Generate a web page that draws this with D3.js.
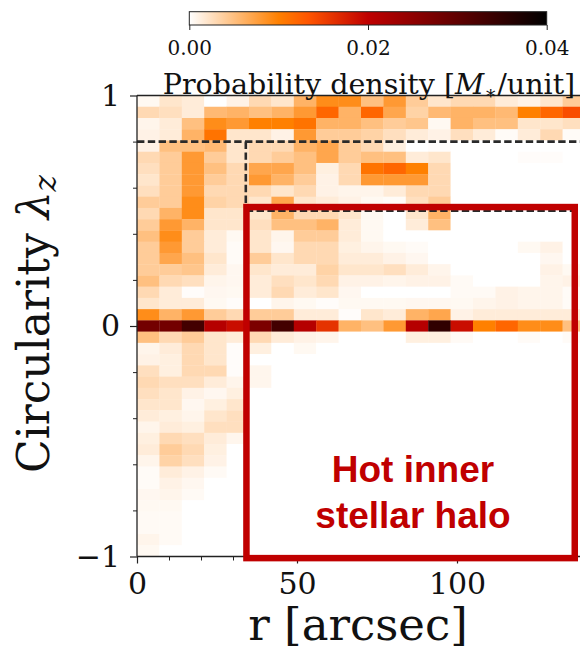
<!DOCTYPE html>
<html><head><meta charset="utf-8">
<script src="https://cdn.jsdelivr.net/npm/d3@7"></script>
<style>html,body{margin:0;padding:0;background:#fff;} svg{display:block;}</style>
</head><body>
<svg id="chart" width="580" height="655"></svg>
<script>
// ---------------- data ----------------
// radial bins (arcsec, left edge), width 7 arcsec
const rBinStarts = [0,7,14,21,28,35,42,49,56,63,70,77,84,91,98,105,112,119,126,133];
const rBinWidth = 7;
// 41 circularity bins spanning [-1, 1], listed from lambda = +1 (top) down to -1
const lambdaBinCount = 41;
// probability density per cell, in units of 1e-4 M*/unit (row 0 = top)
const densityRows = [
  [5,20,15,0,10,30,20,60,90,90,50,80,40,20,30,30,15,10,20,40],
  [30,25,15,55,60,50,60,80,120,60,120,70,35,55,60,60,55,100,120,140],
  [8,15,50,90,80,100,100,110,60,60,50,40,45,5,60,50,50,20,20,25],
  [10,15,60,110,20,20,10,80,40,40,35,25,15,10,25,15,3,15,30,3],
  [10,50,50,55,20,30,30,60,70,40,30,12,0,2,0,0,0,0,0,0],
  [30,40,80,40,20,30,40,50,70,40,50,50,15,20,0,0,0,2,2,0],
  [25,40,80,50,30,70,70,50,12,30,110,120,100,30,0,0,0,0,0,0],
  [20,40,80,40,30,80,60,40,10,30,80,80,80,30,0,0,0,0,0,0],
  [25,40,80,30,30,30,20,30,10,8,8,15,30,30,0,0,0,0,0,0],
  [40,40,90,35,30,20,70,20,15,10,5,3,25,40,0,0,0,0,0,0],
  [30,60,90,20,20,20,60,30,30,20,5,0,20,60,0,0,0,0,0,0],
  [40,80,60,20,20,25,50,50,60,15,5,0,15,50,0,0,0,0,0,0],
  [50,90,40,15,5,20,8,40,40,15,5,0,0,0,0,0,0,0,0,0],
  [40,80,40,15,3,20,6,30,30,12,8,5,3,0,0,0,0,5,10,0],
  [40,70,50,20,3,40,20,30,30,15,15,10,6,0,0,0,0,0,6,0],
  [40,40,45,15,6,20,15,15,35,20,20,25,15,8,0,0,0,0,10,5],
  [50,30,25,8,6,15,25,20,30,10,10,8,10,10,4,0,0,0,8,10],
  [30,15,2,6,5,15,30,15,20,6,0,0,0,0,4,4,10,8,8,3],
  [20,15,15,5,2,0,8,5,2,5,5,5,6,6,5,8,10,8,8,3],
  [90,60,80,40,30,40,40,15,15,2,20,15,60,70,10,15,15,15,15,15],
  [280,280,330,210,190,270,330,210,160,60,50,80,210,350,190,100,120,90,90,50],
  [50,30,40,20,15,30,15,10,8,0,0,0,12,12,4,0,0,3,0,3],
  [8,15,30,20,2,12,0,5,0,0,0,0,0,0,0,0,0,0,0,0],
  [10,12,30,20,2,0,0,0,0,0,0,0,0,0,0,0,0,0,0,0],
  [25,12,30,30,2,7,0,0,0,0,0,0,0,0,0,0,0,0,0,0],
  [30,25,25,15,8,7,0,0,0,0,0,0,0,0,0,0,0,0,0,0],
  [25,20,10,6,12,0,0,0,0,0,0,0,0,0,0,0,0,0,0,0],
  [20,20,6,12,20,0,0,0,0,0,0,0,0,0,0,0,0,0,0,0],
  [15,12,8,20,25,0,0,0,0,0,0,0,0,0,0,0,0,0,0,0],
  [8,15,12,25,25,0,0,0,0,0,0,0,0,0,0,0,0,0,0,0],
  [12,30,25,15,7,0,0,0,0,0,0,0,0,0,0,0,0,0,0,0],
  [15,40,30,12,0,0,0,0,0,0,0,0,0,0,0,0,0,0,0,0],
  [8,35,25,10,0,0,0,0,0,0,0,0,0,0,0,0,0,0,0,0],
  [3,15,10,4,0,0,0,0,0,0,0,0,0,0,0,0,0,0,0,0],
  [3,10,6,0,0,0,0,0,0,0,0,0,0,0,0,0,0,0,0,0],
  [6,8,4,0,0,0,0,0,0,0,0,0,0,0,0,0,0,0,0,0],
  [5,5,0,0,0,0,0,0,0,0,0,0,0,0,0,0,0,0,0,0],
  [4,4,0,0,0,0,0,0,0,0,0,0,0,0,0,0,0,0,0,0],
  [4,4,0,0,0,0,0,0,0,0,0,0,0,0,0,0,0,0,0,0],
  [8,4,0,0,0,0,0,0,0,0,0,0,0,0,0,0,0,0,0,0],
  [5,0,0,0,0,0,0,0,0,0,0,0,0,0,0,0,0,0,0,0]
];
const densityUnit = 1e-4;
const xTicks = [0,50,100];
const xMinorTicks = [10,20,30,40,60,70,80,90,110,120,130];
const yTicks = [-1,0,1];
const yMinorTicks = [-0.8,-0.6,-0.4,-0.2,0.2,0.4,0.6,0.8];
const cbarTicks = [0,0.02,0.04];
const cbarTickLabels = ["0.00","0.02","0.04"];
// dashed region boundaries (r in arcsec, lambda)
const dashedSegments = [
  {r:[0,145],  lam:[0.8,0.8]},
  {r:[34,34],  lam:[0.8,0.5]},
  {r:[34,145], lam:[0.5,0.5]}
];
// annotation box (data coordinates)
const haloBox = {r0:34.2, r1:136.8, lamTop:0.516, lamBottom:-1.007};
const haloLabel = ["Hot inner","stellar halo"];

// ---------------- layout ----------------
const svg = d3.select("#chart");
svg.append("rect").attr("width",580).attr("height",655).attr("fill","#fff");

const x = d3.scaleLinear().domain([0,140]).range([137,585]);
const y = d3.scaleLinear().domain([-1,1]).range([556.5,95.5]);
const color = d3.scaleLinear()
  .domain([0,0.01,0.04/3,0.02,0.04])
  .range(["#ffffff","#ff8000","#ff5500","#bf0000","#000000"])
  .clamp(true);

const lamEdge = i => 1 - i*2/lambdaBinCount;

svg.append("clipPath").attr("id","plotclip").append("rect")
  .attr("x",x(0)).attr("y",y(1)).attr("width",x(140)-x(0)).attr("height",y(-1)-y(1));

const plot = svg.append("g").attr("clip-path","url(#plotclip)");

const cells = [];
densityRows.forEach((row,i)=>{
  row.forEach((v,j)=>{
    cells.push({r0:rBinStarts[j], r1:rBinStarts[j]+rBinWidth, l0:lamEdge(i), l1:lamEdge(i+1), v:v*densityUnit});
  });
});
plot.selectAll("rect.cell").data(cells).enter().append("rect")
  .attr("class","cell")
  .attr("x",d=>x(d.r0)).attr("y",d=>y(d.l0))
  .attr("width",d=>x(d.r1)-x(d.r0)+0.3)
  .attr("height",d=>y(d.l1)-y(d.l0)+0.3)
  .attr("fill",d=>color(d.v));

// dashed lines
plot.selectAll("line.dash").data(dashedSegments).enter().append("line")
  .attr("x1",d=>x(d.r[0])).attr("x2",d=>x(d.r[1]))
  .attr("y1",d=>y(d.lam[0])).attr("y2",d=>y(d.lam[1]))
  .attr("stroke","#2a2a2a").attr("stroke-width",2.6)
  .attr("stroke-dasharray","7.4,3.4");

// spines
const spine = svg.append("g").attr("stroke","#222").attr("stroke-width",1.3).attr("fill","none");
spine.append("line").attr("x1",x(0)).attr("x2",x(0)).attr("y1",y(1)).attr("y2",y(-1));
spine.append("line").attr("x1",x(0)).attr("x2",x(140)).attr("y1",y(-1)).attr("y2",y(-1));
spine.append("line").attr("x1",x(0)).attr("x2",x(140)).attr("y1",y(1)).attr("y2",y(1));

const serif = "'DejaVu Serif', serif";

// y axis
const yAxis = svg.append("g").attr("transform",`translate(${x(0)},0)`)
  .call(d3.axisLeft(y).tickValues(yTicks).tickFormat(d3.format("d")).tickSize(7).tickSizeOuter(0).tickPadding(10));
yAxis.select(".domain").remove();
yAxis.selectAll("text").attr("font-family",serif).attr("font-size",30).attr("fill","#111");
yAxis.selectAll("line").attr("stroke","#222").attr("stroke-width",1.2);
const yMinor = svg.append("g").attr("transform",`translate(${x(0)},0)`)
  .call(d3.axisLeft(y).tickValues(yMinorTicks).tickFormat("").tickSize(4).tickSizeOuter(0));
yMinor.select(".domain").remove();
yMinor.selectAll("line").attr("stroke","#222").attr("stroke-width",1);

// x axis
const xAxis = svg.append("g").attr("transform",`translate(0,${y(-1)})`)
  .call(d3.axisBottom(x).tickValues(xTicks).tickFormat(d3.format("d")).tickSize(7).tickSizeOuter(0).tickPadding(9));
xAxis.select(".domain").remove();
xAxis.selectAll("text").attr("font-family",serif).attr("font-size",30).attr("fill","#111");
xAxis.selectAll("line").attr("stroke","#222").attr("stroke-width",1.2);
const xMinor = svg.append("g").attr("transform",`translate(0,${y(-1)})`)
  .call(d3.axisBottom(x).tickValues(xMinorTicks).tickFormat("").tickSize(4).tickSizeOuter(0));
xMinor.select(".domain").remove();
xMinor.selectAll("line").attr("stroke","#222").attr("stroke-width",1);

// axis labels
svg.append("text").attr("x",358).attr("y",640).attr("text-anchor","middle")
  .attr("font-family",serif).attr("font-size",45).attr("fill","#111").text("r [arcsec]");
const yl = svg.append("text").attr("transform","translate(49,324) rotate(-90)")
  .attr("text-anchor","middle").attr("font-family",serif).attr("font-size",44).attr("fill","#111");
yl.append("tspan").text("Circularity ");
yl.append("tspan").attr("font-style","italic").text("λ");
yl.append("tspan").attr("font-style","italic").attr("font-size",31).attr("dy",7).text("z");

// annotation box
svg.append("rect")
  .attr("x",x(haloBox.r0)).attr("y",y(haloBox.lamTop))
  .attr("width",x(haloBox.r1)-x(haloBox.r0)).attr("height",y(haloBox.lamBottom)-y(haloBox.lamTop))
  .attr("fill","none").attr("stroke","#c00000").attr("stroke-width",6.5);
svg.selectAll("text.halo").data(haloLabel).enter().append("text")
  .attr("class","halo")
  .attr("x",413).attr("y",(d,i)=>482+i*46).attr("text-anchor","middle")
  .attr("font-family","'Liberation Sans', Arial, sans-serif").attr("font-weight","bold")
  .attr("font-size",37).attr("fill","#c00000").text(d=>d);

// colorbar
const cb = d3.scaleLinear().domain([0,0.04]).range([189.3,546.7]);
const defs = svg.append("defs");
const grad = defs.append("linearGradient").attr("id","cbgrad").attr("x1","0%").attr("x2","100%");
color.domain().forEach((v,i)=>{
  grad.append("stop").attr("offset",(v/0.04*100)+"%").attr("stop-color",color.range()[i]);
});
svg.append("rect").attr("x",cb(0)).attr("y",11.7).attr("width",cb(0.04)-cb(0)).attr("height",13.3)
  .attr("fill","url(#cbgrad)").attr("stroke","#222").attr("stroke-width",1);
const cbAxis = svg.append("g").attr("transform","translate(0,25)")
  .call(d3.axisBottom(cb).tickValues(cbarTicks).tickFormat((d,i)=>cbarTickLabels[i]).tickSize(5).tickSizeOuter(0).tickPadding(11));
cbAxis.select(".domain").remove();
cbAxis.selectAll("text").attr("font-family",serif).attr("font-size",20).attr("fill","#111");
cbAxis.selectAll("line").attr("stroke","#222").attr("stroke-width",1);
const cbl = svg.append("text").attr("x",369).attr("y",93.5).attr("text-anchor","middle")
  .attr("font-family",serif).attr("font-size",28.5).attr("fill","#111");
cbl.append("tspan").text("Probability density [");
cbl.append("tspan").attr("font-style","italic").text("M");
cbl.append("tspan").attr("font-size",19).attr("dy",5).text("∗");
cbl.append("tspan").attr("dy",-5).text("/unit]");
</script>
</body></html>
